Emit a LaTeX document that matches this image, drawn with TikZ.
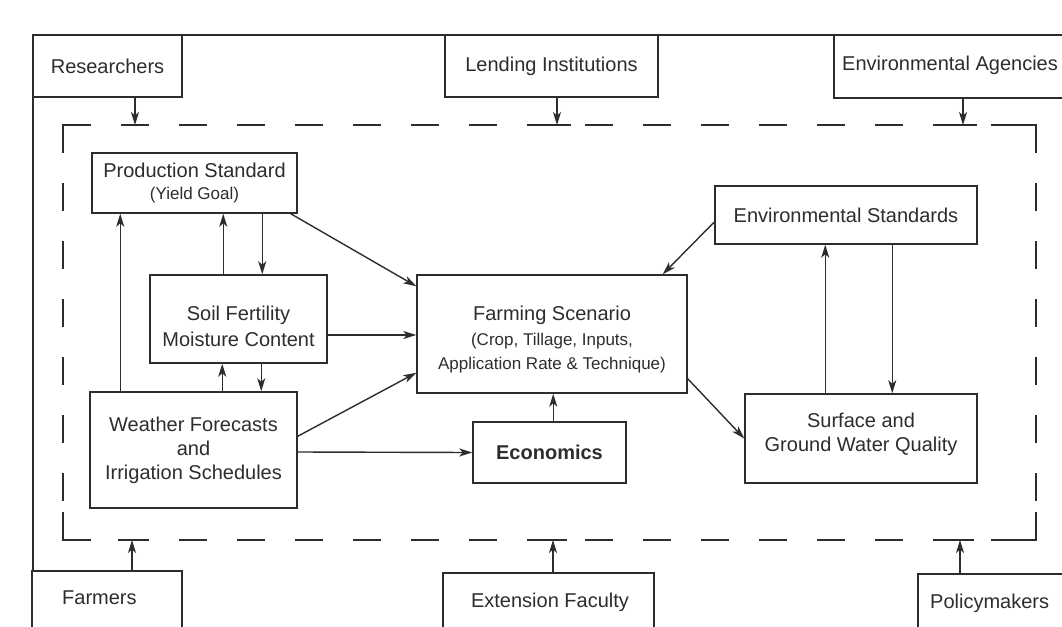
\documentclass[tikz,border=0pt]{standalone}
\usepackage{fontspec}
\setmainfont{Liberation Sans}
\usetikzlibrary{arrows.meta}
\definecolor{ink}{RGB}{45,45,45}
\tikzset{
  box/.style={draw=ink, line width=1.5pt, inner sep=0pt, align=center, text=ink,
              font=\fontsize{20}{24}\selectfont},
  lbl/.style={inner sep=0pt, text=ink, align=center, font=\fontsize{20}{24}\selectfont},
  arr/.style={draw=ink, line width=1.4pt, -{Stealth[length=13pt,width=8pt,inset=3.5pt]}},
  frame/.style={draw=ink, line width=1.5pt},
  dline/.style={draw=ink, line width=1.5pt, dash pattern=on 28pt off 30pt}
}
\begin{document}
\begin{tikzpicture}[x=1pt,y=-1pt]
\useasboundingbox (0,0) rectangle (1062,626);
\fill[white] (0,0) rectangle (1062,626);
\clip (0,0) rectangle (1062,626);

% outer frame
\coordinate (ftl) at (33,35);
\coordinate (ftr) at (1070,35);
\coordinate (fbl) at (33,570);
\draw[frame] (ftr) -- (ftl) -- (fbl);

% stakeholder boxes
\node[box, minimum width=149pt, minimum height=62pt] (res) at (107.5,66) {Researchers};
\node[box, minimum width=213pt, minimum height=62pt] (lend) at (551.5,66) {Lending Institutions};
\node[box, anchor=north west, minimum width=260pt, minimum height=62pt] (env) at (833,35) {};
\node[lbl, anchor=west] (envt) at (842,65) {Environmental Agencies};

\node[box, anchor=north west, minimum width=150pt, minimum height=90pt] (farm) at (31,570) {};
\node[lbl, anchor=west] (farmt) at (62,598) {Farmers};
\node[box, anchor=north west, minimum width=211pt, minimum height=90pt] (ext) at (442,572) {};
\node[lbl] (extt) at (550,602) {Extension Faculty};
\node[box, anchor=north west, minimum width=200pt, minimum height=90pt] (pol) at (917,573) {};
\node[lbl, anchor=west] (polt) at (930,603) {Policymakers};

% dashed system boundary
\coordinate (dnw) at (63,125);
\coordinate (dne) at (1036,125);
\coordinate (dsw) at (63,540);
\coordinate (dse) at (1036,540);
\draw[dline] (dnw) -- (dne);
\draw[dline] (dnw) -- (dsw);
\draw[dline] (dsw) -- (dse);
\draw[dline] (dne) -- (dse);
\draw[frame] (dnw) ++(28,0) -- (dnw) -- ++(0,28);
\draw[frame] (dne) ++(-28,0) -- (dne) -- ++(0,28);
\draw[frame] (dsw) ++(28,0) -- (dsw) -- ++(0,-28);
\draw[frame] (dse) ++(-28,0) -- (dse) -- ++(0,-28);

% inner boxes
\node[box, minimum width=205pt, minimum height=60pt] (ps) at (194.5,183)
  {Production Standard\\[-2pt]{\fontsize{17}{20}\selectfont (Yield Goal)}};
\node[box, minimum width=177pt, minimum height=88pt] (sf) at (238.5,319) {};
\node[lbl] (sft) at (238.5,326) {Soil Fertility\\[2pt]Moisture Content};
\node[box, minimum width=207pt, minimum height=116pt] (wf) at (193.5,450)
  {Weather Forecasts\\and\\Irrigation Schedules};
\node[box, minimum width=270pt, minimum height=118pt] (fs) at (552,334) {};
\node[lbl] (fst) at (552,340)
  {Farming Scenario\\[1pt]{\fontsize{17}{22}\selectfont (Crop, Tillage, Inputs,}\\{\fontsize{17}{22}\selectfont Application Rate \& Technique)}};
\node[box, minimum width=153pt, minimum height=61pt, font=\fontsize{20}{24}\selectfont\bfseries] (eco) at (549.5,452.5) {Economics};
\node[box, minimum width=262pt, minimum height=58pt] (es) at (846,215) {Environmental Standards};
\node[box, minimum width=232pt, minimum height=89pt] (sw) at (861,438.5) {};
\node[lbl] (swt) at (861,434) {Surface and\\Ground Water Quality};

% arrow end points on the dashed boundary
\coordinate (t1) at (135,125);
\coordinate (t2) at (557,125);
\coordinate (t3) at (963,125);
\coordinate (b1) at (132,540);
\coordinate (b2) at (553,540);
\coordinate (b3) at (960,540);
\foreach \c in {t1,t2,t3,b1,b2,b3}
  \draw[frame] ([xshift=-14pt]\c) -- ([xshift=14pt]\c);

\draw[arr] (t1 |- res.south) -- (t1);
\draw[arr] (t2 |- lend.south) -- (t2);
\draw[arr] (t3 |- env.south) -- (t3);
\draw[arr] (b1 |- farm.north) -- (b1);
\draw[arr] (b2 |- ext.north) -- (b2);
\draw[arr] (b3 |- pol.north) -- (b3);

% inner connectors (y axis points down, so yshift<0 moves down)
\draw[arr] ([xshift=31pt]wf.north west) -- ([xshift=29pt]ps.south west);
\draw[arr] ([xshift=74pt]sf.north west) -- ([xshift=132pt]ps.south west);
\draw[arr] ([xshift=171pt]ps.south west) -- ([xshift=113pt]sf.north west);
\draw[arr] ([xshift=-7pt]ps.south east) -- ([yshift=-12pt]fs.north west);
\draw[arr] ([yshift=-16pt]sf.east) -- ([yshift=-1pt]fs.west);
\draw[arr] ([yshift=-45pt]wf.north east) -- ([yshift=21pt]fs.south west);
\draw[arr] ([yshift=-2pt]wf.east) -- (eco.west);
\draw[arr] ([xshift=133pt]wf.north west) -- ([xshift=73pt]sf.south west);
\draw[arr] ([xshift=112pt]sf.south west) -- ([xshift=172pt]wf.north west);
\draw[arr] ([xshift=81pt]eco.north west) -- ([xshift=137pt]fs.south west);
\draw[arr] ([yshift=-7pt]es.west) -- ([xshift=-25pt]fs.north east);
\draw[arr] ([yshift=15pt]fs.south east) -- (sw.west);
\draw[arr] ([xshift=81pt]sw.north west) -- ([xshift=111pt]es.south west);
\draw[arr] ([xshift=178pt]es.south west) -- ([xshift=148pt]sw.north west);
\end{tikzpicture}
\end{document}
